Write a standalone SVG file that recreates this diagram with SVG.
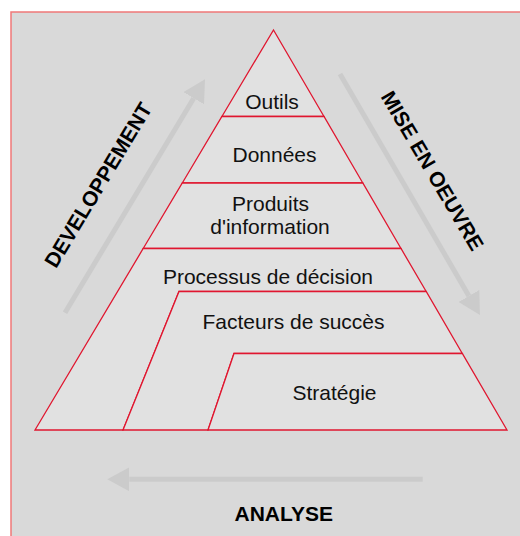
<svg xmlns="http://www.w3.org/2000/svg" width="520" height="536" viewBox="0 0 520 536">
<style>
.lvl{fill:#e1e1e1;stroke:#e0162f;stroke-width:1.3;stroke-linejoin:miter}
.t{font-family:"Liberation Sans",Arial,sans-serif;font-size:21px;fill:#111;text-anchor:middle}
.b{font-family:"Liberation Sans",Arial,sans-serif;font-size:21px;font-weight:bold;fill:#000;text-anchor:middle}
.arr{stroke:#cbcbcb;stroke-width:5;fill:none}
</style>
<defs>
<marker id="head" markerUnits="userSpaceOnUse" markerWidth="23" markerHeight="24" refX="0" refY="12" orient="auto">
<path d="M0,0 L22,12 L0,24 z" fill="#cbcbcb"/>
</marker>
</defs>
<rect x="11" y="12" width="520" height="540" fill="#d9d9d9" stroke="#f07878" stroke-width="1.5"/>
<g id="connectors">
<line class="arr" x1="65" y1="312.7" x2="193.7" y2="98.2" marker-end="url(#head)"/>
<line class="arr" x1="340" y1="74" x2="468.9" y2="296" marker-end="url(#head)"/>
<line class="arr" x1="422.7" y1="479.3" x2="129.3" y2="479.3" marker-end="url(#head)"/>
</g>
<g id="outils">
<polygon class="lvl" points="273.5,30 324,116.5 221.9,116.5"/>
<text class="t" x="272" y="109">Outils</text>
</g>
<g id="donnees">
<polygon class="lvl" points="221.9,116.5 324,116.5 362.8,183 182.3,183"/>
<text class="t" x="274.5" y="161.5">Données</text>
</g>
<g id="produits">
<polygon class="lvl" points="182.3,183 362.8,183 401,248.5 143.2,248.5"/>
<text class="t" x="270.5" y="210.5">Produits</text>
<text class="t" x="270" y="234">d'information</text>
</g>
<g id="processus">
<polygon class="lvl" points="143.2,248.5 401,248.5 426.2,291.5 179,291.5 123,430 35,430"/>
<text class="t" x="268" y="284">Processus de décision</text>
</g>
<g id="facteurs">
<polygon class="lvl" points="179,291.5 426.2,291.5 462.3,353.5 234,353.5 208,430 123,430"/>
<text class="t" x="293.5" y="328.5">Facteurs de succès</text>
</g>
<g id="strategie">
<polygon class="lvl" points="234,353.5 462.3,353.5 507,430 208,430"/>
<text class="t" x="334.5" y="399.5">Stratégie</text>
</g>
<g id="labels">
<text class="b" transform="translate(104.5,188.7) rotate(-59)">DEVELOPPEMENT</text>
<text class="b" transform="translate(426.1,174.4) rotate(59.5)">MISE EN OEUVRE</text>
<text class="b" x="283.7" y="521.3">ANALYSE</text>
</g>
</svg>
